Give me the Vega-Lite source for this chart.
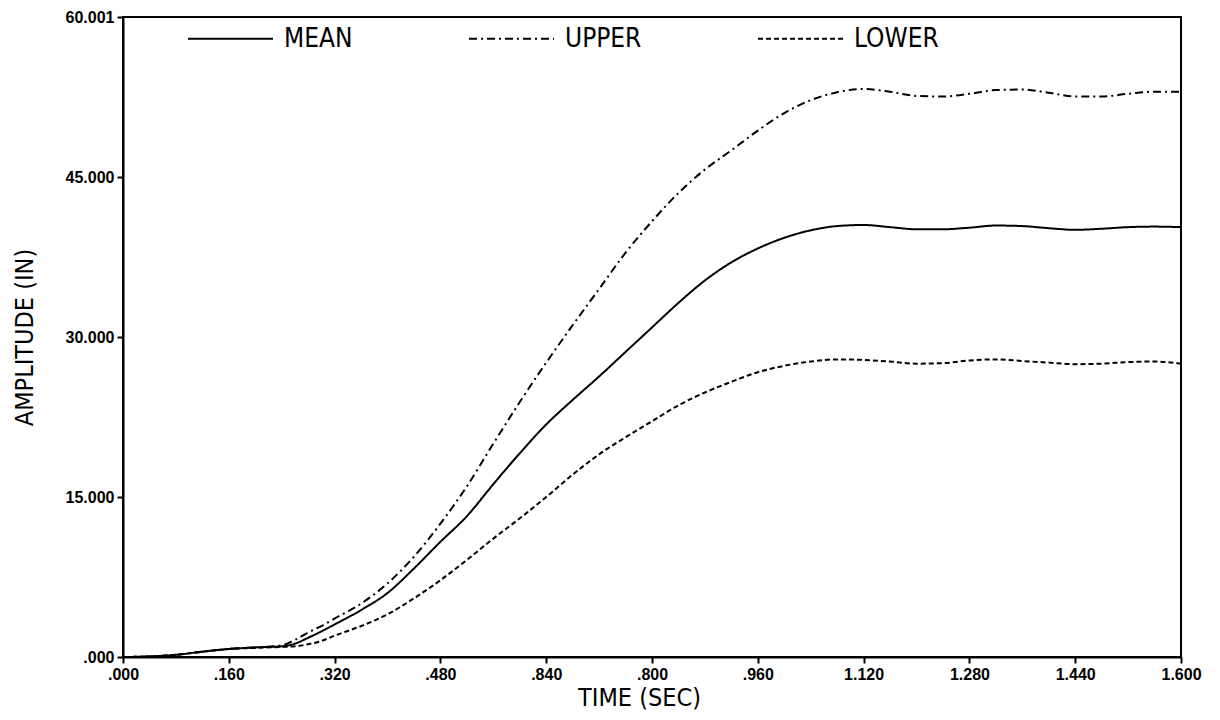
{
  "$schema": "https://vega.github.io/schema/vega-lite/v6.json",
  "autosize": {"type": "none"},
  "width": 1058,
  "height": 640,
  "padding": {"left": 123, "top": 17, "right": 39, "bottom": 63},
  "background": "white",
  "config": {
    "view": {"stroke": "black", "strokeWidth": 2},
    "axis": {
      "domainColor": "black", "domainWidth": 2,
      "tickColor": "black", "tickWidth": 2, "tickSize": 6,
      "grid": false,
      "labelFont": "Liberation Sans", "labelFontWeight": "bold", "labelFontSize": 16, "labelColor": "black",
      "titleFont": "DejaVu Sans Condensed, Roboto Condensed, Roboto, sans-serif", "titleFontWeight": "normal", "titleFontSize": 25, "titleColor": "black"
    }
  },
  "data": {"values": [
    {"t": 0.00, "v": 0.0, "s": "MEAN"},
    {"t": 0.04, "v": 0.05, "s": "MEAN"},
    {"t": 0.08, "v": 0.2, "s": "MEAN"},
    {"t": 0.12, "v": 0.5, "s": "MEAN"},
    {"t": 0.16, "v": 0.75, "s": "MEAN"},
    {"t": 0.20, "v": 0.9, "s": "MEAN"},
    {"t": 0.24, "v": 1.0, "s": "MEAN"},
    {"t": 0.26, "v": 1.25, "s": "MEAN"},
    {"t": 0.28, "v": 1.8, "s": "MEAN"},
    {"t": 0.30, "v": 2.4, "s": "MEAN"},
    {"t": 0.32, "v": 3.05, "s": "MEAN"},
    {"t": 0.36, "v": 4.4, "s": "MEAN"},
    {"t": 0.40, "v": 6.0, "s": "MEAN"},
    {"t": 0.44, "v": 8.3, "s": "MEAN"},
    {"t": 0.48, "v": 10.8, "s": "MEAN"},
    {"t": 0.52, "v": 13.2, "s": "MEAN"},
    {"t": 0.56, "v": 16.2, "s": "MEAN"},
    {"t": 0.60, "v": 19.1, "s": "MEAN"},
    {"t": 0.64, "v": 21.8, "s": "MEAN"},
    {"t": 0.68, "v": 24.1, "s": "MEAN"},
    {"t": 0.72, "v": 26.3, "s": "MEAN"},
    {"t": 0.76, "v": 28.6, "s": "MEAN"},
    {"t": 0.80, "v": 30.9, "s": "MEAN"},
    {"t": 0.84, "v": 33.2, "s": "MEAN"},
    {"t": 0.88, "v": 35.3, "s": "MEAN"},
    {"t": 0.92, "v": 37.0, "s": "MEAN"},
    {"t": 0.96, "v": 38.3, "s": "MEAN"},
    {"t": 1.00, "v": 39.3, "s": "MEAN"},
    {"t": 1.04, "v": 40.0, "s": "MEAN"},
    {"t": 1.08, "v": 40.4, "s": "MEAN"},
    {"t": 1.12, "v": 40.5, "s": "MEAN"},
    {"t": 1.16, "v": 40.3, "s": "MEAN"},
    {"t": 1.20, "v": 40.1, "s": "MEAN"},
    {"t": 1.24, "v": 40.1, "s": "MEAN"},
    {"t": 1.28, "v": 40.25, "s": "MEAN"},
    {"t": 1.32, "v": 40.45, "s": "MEAN"},
    {"t": 1.36, "v": 40.4, "s": "MEAN"},
    {"t": 1.40, "v": 40.2, "s": "MEAN"},
    {"t": 1.44, "v": 40.05, "s": "MEAN"},
    {"t": 1.48, "v": 40.15, "s": "MEAN"},
    {"t": 1.52, "v": 40.3, "s": "MEAN"},
    {"t": 1.56, "v": 40.35, "s": "MEAN"},
    {"t": 1.60, "v": 40.3, "s": "MEAN"},

    {"t": 0.00, "v": 0.0, "s": "UPPER"},
    {"t": 0.04, "v": 0.05, "s": "UPPER"},
    {"t": 0.08, "v": 0.2, "s": "UPPER"},
    {"t": 0.12, "v": 0.5, "s": "UPPER"},
    {"t": 0.16, "v": 0.75, "s": "UPPER"},
    {"t": 0.20, "v": 0.9, "s": "UPPER"},
    {"t": 0.24, "v": 1.1, "s": "UPPER"},
    {"t": 0.26, "v": 1.6, "s": "UPPER"},
    {"t": 0.28, "v": 2.3, "s": "UPPER"},
    {"t": 0.30, "v": 2.9, "s": "UPPER"},
    {"t": 0.32, "v": 3.6, "s": "UPPER"},
    {"t": 0.36, "v": 5.0, "s": "UPPER"},
    {"t": 0.40, "v": 6.9, "s": "UPPER"},
    {"t": 0.44, "v": 9.4, "s": "UPPER"},
    {"t": 0.48, "v": 12.5, "s": "UPPER"},
    {"t": 0.52, "v": 16.0, "s": "UPPER"},
    {"t": 0.56, "v": 20.0, "s": "UPPER"},
    {"t": 0.60, "v": 23.9, "s": "UPPER"},
    {"t": 0.64, "v": 27.6, "s": "UPPER"},
    {"t": 0.68, "v": 31.1, "s": "UPPER"},
    {"t": 0.72, "v": 34.5, "s": "UPPER"},
    {"t": 0.76, "v": 37.9, "s": "UPPER"},
    {"t": 0.80, "v": 40.85, "s": "UPPER"},
    {"t": 0.84, "v": 43.5, "s": "UPPER"},
    {"t": 0.88, "v": 45.7, "s": "UPPER"},
    {"t": 0.92, "v": 47.5, "s": "UPPER"},
    {"t": 0.96, "v": 49.35, "s": "UPPER"},
    {"t": 1.00, "v": 51.0, "s": "UPPER"},
    {"t": 1.04, "v": 52.2, "s": "UPPER"},
    {"t": 1.08, "v": 52.95, "s": "UPPER"},
    {"t": 1.12, "v": 53.25, "s": "UPPER"},
    {"t": 1.16, "v": 53.0, "s": "UPPER"},
    {"t": 1.20, "v": 52.6, "s": "UPPER"},
    {"t": 1.24, "v": 52.55, "s": "UPPER"},
    {"t": 1.28, "v": 52.8, "s": "UPPER"},
    {"t": 1.32, "v": 53.15, "s": "UPPER"},
    {"t": 1.36, "v": 53.2, "s": "UPPER"},
    {"t": 1.40, "v": 52.9, "s": "UPPER"},
    {"t": 1.44, "v": 52.55, "s": "UPPER"},
    {"t": 1.48, "v": 52.55, "s": "UPPER"},
    {"t": 1.52, "v": 52.8, "s": "UPPER"},
    {"t": 1.56, "v": 53.0, "s": "UPPER"},
    {"t": 1.60, "v": 53.0, "s": "UPPER"},

    {"t": 0.00, "v": 0.0, "s": "LOWER"},
    {"t": 0.04, "v": 0.05, "s": "LOWER"},
    {"t": 0.08, "v": 0.2, "s": "LOWER"},
    {"t": 0.12, "v": 0.5, "s": "LOWER"},
    {"t": 0.16, "v": 0.75, "s": "LOWER"},
    {"t": 0.20, "v": 0.85, "s": "LOWER"},
    {"t": 0.24, "v": 0.95, "s": "LOWER"},
    {"t": 0.26, "v": 1.0, "s": "LOWER"},
    {"t": 0.28, "v": 1.2, "s": "LOWER"},
    {"t": 0.30, "v": 1.5, "s": "LOWER"},
    {"t": 0.32, "v": 2.0, "s": "LOWER"},
    {"t": 0.36, "v": 2.9, "s": "LOWER"},
    {"t": 0.40, "v": 4.0, "s": "LOWER"},
    {"t": 0.44, "v": 5.5, "s": "LOWER"},
    {"t": 0.48, "v": 7.2, "s": "LOWER"},
    {"t": 0.52, "v": 9.1, "s": "LOWER"},
    {"t": 0.56, "v": 11.1, "s": "LOWER"},
    {"t": 0.60, "v": 13.0, "s": "LOWER"},
    {"t": 0.64, "v": 15.0, "s": "LOWER"},
    {"t": 0.68, "v": 17.1, "s": "LOWER"},
    {"t": 0.72, "v": 19.0, "s": "LOWER"},
    {"t": 0.76, "v": 20.6, "s": "LOWER"},
    {"t": 0.80, "v": 22.1, "s": "LOWER"},
    {"t": 0.84, "v": 23.6, "s": "LOWER"},
    {"t": 0.88, "v": 24.8, "s": "LOWER"},
    {"t": 0.92, "v": 25.8, "s": "LOWER"},
    {"t": 0.96, "v": 26.7, "s": "LOWER"},
    {"t": 1.00, "v": 27.3, "s": "LOWER"},
    {"t": 1.04, "v": 27.7, "s": "LOWER"},
    {"t": 1.08, "v": 27.9, "s": "LOWER"},
    {"t": 1.12, "v": 27.85, "s": "LOWER"},
    {"t": 1.16, "v": 27.7, "s": "LOWER"},
    {"t": 1.20, "v": 27.5, "s": "LOWER"},
    {"t": 1.24, "v": 27.55, "s": "LOWER"},
    {"t": 1.28, "v": 27.8, "s": "LOWER"},
    {"t": 1.32, "v": 27.9, "s": "LOWER"},
    {"t": 1.36, "v": 27.75, "s": "LOWER"},
    {"t": 1.40, "v": 27.6, "s": "LOWER"},
    {"t": 1.44, "v": 27.45, "s": "LOWER"},
    {"t": 1.48, "v": 27.5, "s": "LOWER"},
    {"t": 1.52, "v": 27.65, "s": "LOWER"},
    {"t": 1.56, "v": 27.7, "s": "LOWER"},
    {"t": 1.60, "v": 27.5, "s": "LOWER"}
  ]},
  "mark": {"type": "line", "color": "black", "strokeWidth": 2, "interpolate": "monotone", "clip": true},
  "encoding": {
    "x": {
      "field": "t", "type": "quantitative",
      "scale": {"domain": [0, 1.6], "nice": false, "zero": false},
      "axis": {
        "title": "TIME (SEC)",
        "titleX": 516,
        "titleAlign": "center",
        "values": [0, 0.16, 0.32, 0.48, 0.64, 0.8, 0.96, 1.12, 1.28, 1.44, 1.6],
        "labelExpr": "abs(datum.value - 0.64) < 0.001 ? '.840' : (datum.value < 1 ? replace(format(datum.value, '.3f'), '0.', '.') : format(datum.value, '.3f'))",
        "labelPadding": 3,
        "titlePadding": 3,
        "labelFlush": false
      }
    },
    "y": {
      "field": "v", "type": "quantitative",
      "scale": {"domain": [0, 60.001], "nice": false, "zero": false},
      "axis": {
        "title": "AMPLITUDE (IN)",
        "values": [0, 15, 30, 45, 60.001],
        "labelExpr": "datum.value < 0.5 ? '.000' : format(datum.value, '.3f')",
        "labelPadding": 3,
        "titlePadding": 28,
        "labelFlush": false
      }
    },
    "strokeDash": {
      "field": "s", "type": "nominal",
      "scale": {"domain": ["MEAN", "UPPER", "LOWER"], "range": [[1, 0], [8, 4, 2, 4], [5, 3]]},
      "legend": {
        "title": null,
        "orient": "none",
        "direction": "horizontal",
        "legendX": 64,
        "legendY": -22,
        "symbolType": "stroke",
        "symbolSize": 7225,
        "symbolStrokeColor": "black",
        "symbolStrokeWidth": 2,
        "labelFont": "DejaVu Sans Condensed, Roboto Condensed, Roboto, sans-serif",
        "labelFontSize": 26,
        "labelColor": "black",
        "labelOffset": 10,
        "columnPadding": 112,
        "labelLimit": 300
      }
    }
  }
}
